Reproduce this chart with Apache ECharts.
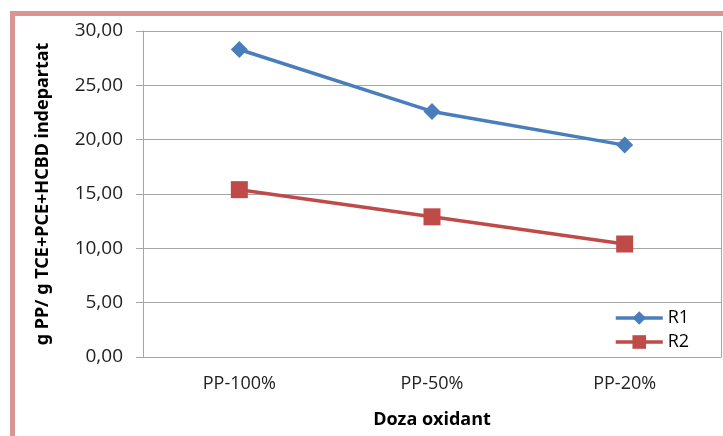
<!DOCTYPE html>
<html>
<head>
<meta charset="utf-8">
<script src="https://cdn.jsdelivr.net/npm/echarts@6/dist/echarts.min.js"></script>
<style>
  html, body { margin: 0; padding: 0; background: #fff; }
  #chart { width: 723px; height: 436px; }
</style>
</head>
<body>
<div id="chart"></div>
<script>
  const categories = ['PP-100%', 'PP-50%', 'PP-20%']
  const r1Values = [28.3, 22.6, 19.5]
  const r2Values = [15.4, 12.9, 10.4]
  const yTicks = { min: 0, max: 30, interval: 5 }

  const font = '"Open Sans", Lato, sans-serif'
  const chart = echarts.init(document.getElementById('chart'))

  const option = {
    animation: false,
    textStyle: { fontFamily: font },
    grid: { left: 143, right: 2, top: 31, bottom: 79 },
    legend: {
      orient: 'vertical',
      left: 609,
      top: 304,
      itemWidth: 47,
      itemHeight: 17,
      itemGap: 6,
      lineStyle: { width: 3.5 },
      textStyle: { fontSize: 18, color: '#000', fontFamily: font },
      data: ['R1', 'R2']
    },
    xAxis: {
      type: 'category',
      data: categories,
      boundaryGap: true,
      axisTick: { show: false },
      axisLine: { lineStyle: { color: '#a6a6a6', width: 1 } },
      axisLabel: { fontSize: 18, color: '#222', margin: 18 },
      name: 'Doza oxidant',
      nameLocation: 'middle',
      nameGap: 54,
      nameTextStyle: { fontSize: 18, fontWeight: 'bold', color: '#000' }
    },
    yAxis: {
      type: 'value',
      min: yTicks.min,
      max: yTicks.max,
      interval: yTicks.interval,
      axisLine: { show: true, lineStyle: { color: '#a6a6a6' } },
      axisTick: { show: true, length: 7, lineStyle: { color: '#a6a6a6' } },
      splitLine: { lineStyle: { color: '#a6a6a6' } },
      axisLabel: {
        fontSize: 19, color: '#222', margin: 20,
        formatter: v => v.toFixed(2).replace('.', ',')
      },
      name: 'g PP/ g TCE+PCE+HCBD indepartat',
      nameLocation: 'middle',
      nameGap: 91,
      nameTextStyle: { fontSize: 18, fontWeight: 'bold', fontFamily: '"Noto Sans", sans-serif', color: '#000' }
    },
    series: [
      {
        name: 'R1',
        type: 'line',
        data: r1Values,
        color: '#4a7ebb',
        symbol: 'diamond',
        symbolSize: 17,
        lineStyle: { width: 3.5 },
        itemStyle: { color: '#4a7ebb' }
      },
      {
        name: 'R2',
        type: 'line',
        data: r2Values,
        color: '#be4b48',
        symbol: 'rect',
        symbolSize: 17,
        lineStyle: { width: 3.5 },
        itemStyle: { color: '#be4b48' }
      }
    ],
    graphic: [
      // pink frame around the chart
      { type: 'rect', shape: { x: 10, y: 11, width: 713, height: 5 }, style: { fill: '#d99594' }, z: 100 },
      { type: 'rect', shape: { x: 10, y: 11, width: 5, height: 425 }, style: { fill: '#d99594' }, z: 100 },
      // plot area right border
      { type: 'line', shape: { x1: 721.5, y1: 31, x2: 721.5, y2: 357 }, style: { stroke: '#a6a6a6', lineWidth: 1 }, z: 1 }
    ]
  }

  chart.setOption(option)
</script>
</body>
</html>
